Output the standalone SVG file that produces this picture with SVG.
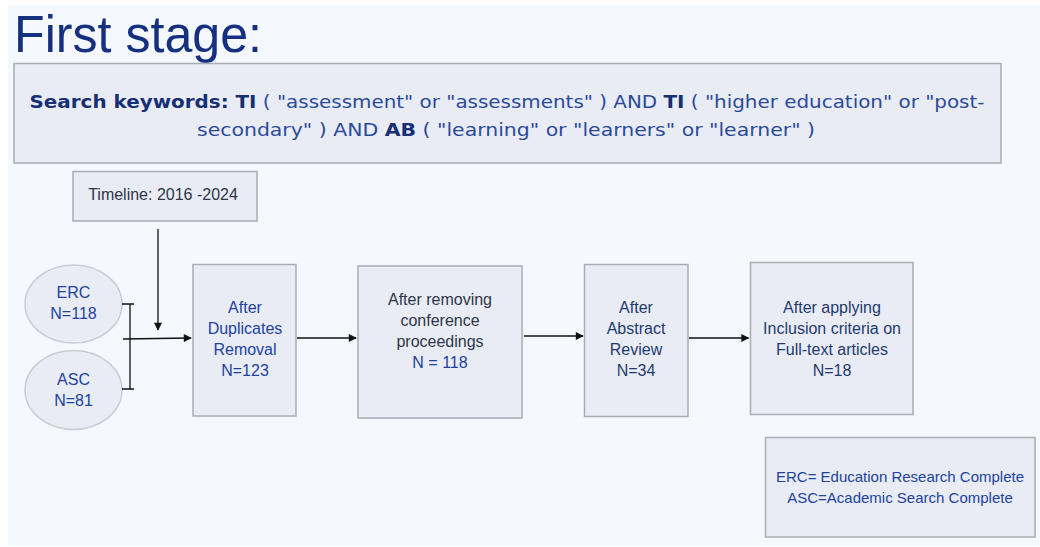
<svg xmlns="http://www.w3.org/2000/svg" width="1040" height="547" viewBox="0 0 1040 547">
  <defs>
    <marker id="arrow" viewBox="0 0 10 10" refX="9" refY="5" markerWidth="9" markerHeight="8" markerUnits="userSpaceOnUse" orient="auto">
      <path d="M0,0 L10,5 L0,10 z" fill="#111"/>
    </marker>
    <style>
      .box { fill: #e9ecf5; stroke: #a8acb6; stroke-width: 1.5; }
      .oval { fill: #e9ecf5; stroke: #c9ccd4; stroke-width: 1.5; }
      .link { stroke: #111; stroke-width: 1.3; fill: none; }
      .lbl { font-family: "Liberation Sans", Arial, sans-serif; font-size: 16px; text-anchor: middle; fill: #1f3a6e; }
      .small { font-size: 15px; }
      .blue { fill: #2143a0; }
      .grey { fill: #2e3648; }
      .kw { font-family: "DejaVu Sans", "Liberation Sans", sans-serif; font-size: 17px; fill: #2b4a9a; text-anchor: middle; }
      .kw .b { font-weight: bold; fill: #172f73; }
    </style>
  </defs>

  <!-- page background -->
  <rect x="8" y="5" width="1032" height="541" fill="#f5f8fe"/>

  <!-- heading -->
  <text x="14" y="52" font-family="'Liberation Sans', Arial, sans-serif" font-size="52" fill="#14307f" textLength="248" lengthAdjust="spacingAndGlyphs">First stage:</text>

  <!-- search string -->
  <g id="search">
    <rect class="box" x="14" y="63.5" width="987" height="99.5"/>
    <text class="kw" x="507" y="108" textLength="955" lengthAdjust="spacingAndGlyphs"><tspan class="b">Search keywords: TI</tspan> ( "assessment" or "assessments" ) AND <tspan class="b">TI</tspan> ( "higher education" or "post-</text>
    <text class="kw" x="506" y="136" textLength="618" lengthAdjust="spacingAndGlyphs">secondary" ) AND <tspan class="b">AB</tspan> ( "learning" or "learners" or "learner" )</text>
  </g>

  <!-- date range -->
  <g id="timeline">
    <rect class="box" x="73" y="171.5" width="184" height="49.5"/>
    <text class="lbl grey" x="163" y="200">Timeline: 2016 -2024</text>
  </g>

  <!-- databases -->
  <g id="erc">
    <ellipse class="oval" cx="73.5" cy="304" rx="48.5" ry="39"/>
    <text class="lbl blue" x="73.5" y="298">ERC</text>
    <text class="lbl blue" x="73.5" y="319">N=118</text>
  </g>
  <g id="asc">
    <ellipse class="oval" cx="73.5" cy="390" rx="48.5" ry="39.5"/>
    <text class="lbl blue" x="73.5" y="385">ASC</text>
    <text class="lbl blue" x="73.5" y="406">N=81</text>
  </g>

  <!-- screening steps -->
  <g id="duplicates">
    <rect class="box" x="193" y="264.5" width="103" height="151.5"/>
    <text class="lbl blue" x="245" y="313">After</text>
    <text class="lbl blue" x="245" y="334">Duplicates</text>
    <text class="lbl blue" x="245" y="355">Removal</text>
    <text class="lbl blue" x="245" y="376">N=123</text>
  </g>
  <g id="proceedings">
    <rect class="box" x="358" y="266" width="164" height="152"/>
    <text class="lbl grey" x="440" y="305">After removing</text>
    <text class="lbl grey" x="440" y="326">conference</text>
    <text class="lbl grey" x="440" y="347">proceedings</text>
    <text class="lbl blue" x="440" y="368">N = 118</text>
  </g>
  <g id="abstract">
    <rect class="box" x="584.5" y="264.5" width="103.5" height="152"/>
    <text class="lbl" x="636" y="313">After</text>
    <text class="lbl" x="636" y="334">Abstract</text>
    <text class="lbl" x="636" y="355">Review</text>
    <text class="lbl" x="636" y="376">N=34</text>
  </g>
  <g id="fulltext">
    <rect class="box" x="750.5" y="262.5" width="162.5" height="152"/>
    <text class="lbl" x="832" y="313">After applying</text>
    <text class="lbl" x="832" y="334">Inclusion criteria on</text>
    <text class="lbl" x="832" y="355">Full-text articles</text>
    <text class="lbl" x="832" y="376">N=18</text>
  </g>

  <!-- abbreviations -->
  <g id="legend">
    <rect class="box" x="765.5" y="437.5" width="269.5" height="99.5"/>
    <text class="lbl small blue" x="900" y="482">ERC= Education Research Complete</text>
    <text class="lbl small blue" x="900" y="503">ASC=Academic Search Complete</text>
  </g>

  <!-- connectors -->
  <g id="connectors">
    <path class="link" d="M122,304 H134 M130,304 V389 M122,389 H134"/>
    <line class="link" x1="123" y1="339" x2="191" y2="338" marker-end="url(#arrow)"/>
    <line class="link" x1="158" y1="229" x2="158" y2="330" marker-end="url(#arrow)"/>
    <line class="link" x1="297" y1="338" x2="356" y2="338" marker-end="url(#arrow)"/>
    <line class="link" x1="524" y1="336" x2="583" y2="336" marker-end="url(#arrow)"/>
    <line class="link" x1="689" y1="338" x2="748.5" y2="338" marker-end="url(#arrow)"/>
  </g>
</svg>
